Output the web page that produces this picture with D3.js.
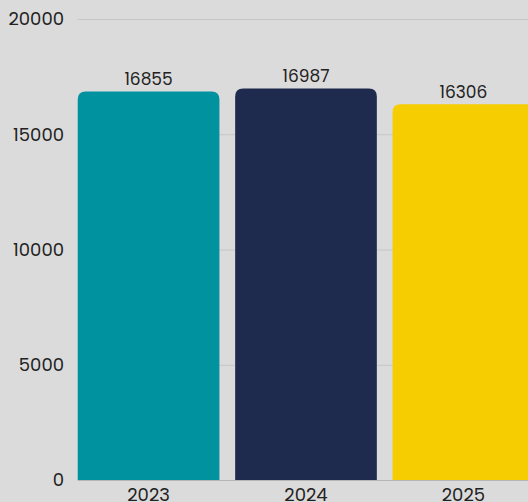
<!DOCTYPE html>
<html>
<head>
<meta charset="utf-8">
<script src="https://cdn.jsdelivr.net/npm/d3@7"></script>
<style>
  html, body { margin: 0; padding: 0; background: #dbdbdb; overflow: hidden; }
  text { font-family: "Poppins", "Open Sans", sans-serif; }
</style>
</head>
<body>
<div id="chart"></div>
<script>
const years = ["2023", "2024", "2025"];
const totals = [16855, 16987, 16306];
const barColors = ["#00929f", "#1e2b4f", "#f5cd00"];
const yTicks = [0, 5000, 10000, 15000, 20000];

const width = 528, height = 502;
const margin = { top: 19, bottom: 22, left: 62, right: -22 };

const svg = d3.select("#chart").append("svg")
  .attr("width", width)
  .attr("height", height)
  .style("background", "#dbdbdb");

const x = d3.scaleBand()
  .domain(years)
  .range([margin.left, width - margin.right])
  .padding(0.1);

const y = d3.scaleLinear()
  .domain([0, 20000])
  .range([height - margin.bottom, margin.top]);

// gridlines
svg.append("g")
  .selectAll("line")
  .data(yTicks.slice(1))
  .enter().append("line")
  .attr("x1", x(years[0]))
  .attr("x2", width)
  .attr("y1", d => y(d) + 0.5)
  .attr("y2", d => y(d) + 0.5)
  .attr("stroke", "#c6c6c6")
  .attr("stroke-width", 1);

// y labels
svg.append("g")
  .selectAll("text")
  .data(yTicks)
  .enter().append("text")
  .attr("x", 64)
  .attr("y", d => y(d))
  .attr("dy", "0.35em")
  .attr("text-anchor", "end")
  .attr("font-size", 18)
  .attr("fill", "#222")
  .text(d => d);

// bars with rounded tops
const r = 8;
function barPath(d, i) {
  const x0 = x(years[i]), w = x.bandwidth();
  const y0 = y(d), y1 = y(0);
  return `M${x0},${y1}V${y0 + r}Q${x0},${y0} ${x0 + r},${y0}` +
    `H${x0 + w - r}Q${x0 + w},${y0} ${x0 + w},${y0 + r}V${y1}Z`;
}

svg.append("g")
  .selectAll("path")
  .data(totals)
  .enter().append("path")
  .attr("d", barPath)
  .attr("fill", (d, i) => barColors[i]);

// baseline
svg.append("line")
  .attr("x1", x(years[0]))
  .attr("x2", width)
  .attr("y1", y(0) + 0.5)
  .attr("y2", y(0) + 0.5)
  .attr("stroke", "#b5b5b5");

// value labels
svg.append("g")
  .selectAll("text")
  .data(totals)
  .enter().append("text")
  .attr("x", (d, i) => x(years[i]) + x.bandwidth() / 2)
  .attr("y", d => y(d) - 6)
  .attr("text-anchor", "middle")
  .attr("font-size", 17)
  .attr("fill", "#222")
  .text(d => d);

// x labels
svg.append("g")
  .selectAll("text")
  .data(years)
  .enter().append("text")
  .attr("x", d => x(d) + x.bandwidth() / 2)
  .attr("y", y(0) + 21)
  .attr("text-anchor", "middle")
  .attr("font-size", 18)
  .attr("fill", "#222")
  .text(d => d);
</script>
</body>
</html>
